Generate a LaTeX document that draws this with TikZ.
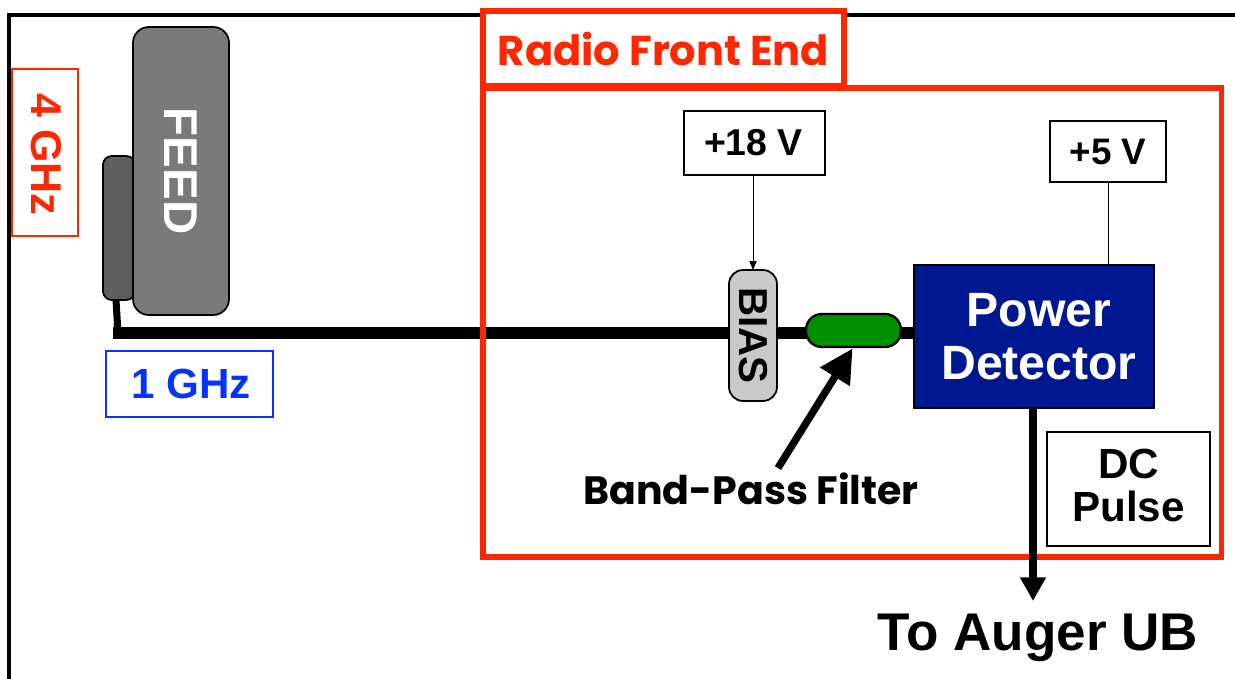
\documentclass[tikz,border=0pt]{standalone}
\usepackage{fontspec}
\usepackage{xcolor}
\usetikzlibrary{arrows.meta, positioning, calc}
\setmainfont{Liberation Sans}
\newfontfamily\gillfont{Poppins}
\definecolor{FrontRed}{HTML}{FF2600}
\definecolor{IfBlue}{HTML}{0433FF}
\definecolor{DetectorNavy}{HTML}{00188F}
\definecolor{FilterGreen}{HTML}{008F00}
\definecolor{FeedGray}{HTML}{7A7A7A}
\definecolor{HornGray}{HTML}{5E5E5E}
\definecolor{BiasGray}{HTML}{C9C9C9}
\newcommand{\fsz}[2]{\fontsize{#1}{#2}\selectfont\bfseries}

\begin{document}
\begin{tikzpicture}[
    x=0.02cm, y=-0.02cm,
    every node/.style={outer sep=0pt},
    labelbox/.style={rectangle, draw=black, line width=0.8pt, fill=white,
                     inner sep=0pt, align=center},
    bandbox/.style={rectangle, line width=1pt, fill=white, inner sep=0pt},
    frontbox/.style={rectangle, draw=FrontRed, line width=3pt, inner sep=0pt},
    part/.style={rectangle, rounded corners=8pt, draw=black, line width=1pt,
                 inner sep=0pt, align=center},
    cable/.style={line width=6.3pt},
    thinwire/.style={line width=0.5pt}
]
    \useasboundingbox (0,0) rectangle (1235,679);

    % Outer frame
    \coordinate (framebl) at (9,679);
    \coordinate (frametl) at (9,15);
    \coordinate (frametr) at (1235,15);
    \draw[line width=2.4pt, line join=miter] (framebl) -- (frametl) -- (frametr);

    % Feed and horn
    \node[part, fill=HornGray, rounded corners=5pt, minimum width=0.64cm, minimum height=2.88cm,
          anchor=north west] (horn) at (103,156) {};
    \coordinate (cablecorner) at (113,333);
    \draw[line width=4pt] (horn.south) ++(-3,0) coordinate (hornout) -- (118,333);
    \node[part, fill=FeedGray, text=white, rotate=-90, minimum width=5.76cm, minimum height=1.92cm,
          rounded corners=9pt, font=\fsz{27}{30}] (feed) at (181,171) {FEED};

    % Main signal line
    \node[part, fill=DetectorNavy, text=white, rounded corners=0pt, minimum width=4.8cm,
          minimum height=2.86cm, anchor=north west, font=\fsz{27.4}{30}] (detector) at (914,265)
          {\hspace*{0.2cm}Power\\\hspace*{0.2cm}Detector};
    \draw[cable] (cablecorner) -- (detector.west |- cablecorner);
    \node[frontbox, minimum width=14.78cm, minimum height=9.38cm, anchor=north west] (front) at (483,88) {};
    \node[part, fill=BiasGray, rotate=-90, minimum width=2.62cm, minimum height=0.96cm,
          font=\fsz{23}{26}] (bias) at (753,335.5) {BIAS};
    \node[part, fill=FilterGreen, line width=1.3pt, rounded corners=9pt, minimum width=1.9cm,
          minimum height=0.66cm] (filter) at (853.5,330.5) {};

    % Title and band labels
    \node[frontbox, fill=white, minimum width=7.22cm, minimum height=1.5cm, anchor=north west,
          text=FrontRed, font=\gillfont\fontsize{23.7}{26}\selectfont\bfseries] (title) at (483,11)
          {Radio Front End};
    \node[bandbox, draw=FrontRed, text=FrontRed, rotate=-90, minimum width=3.34cm, minimum height=1.32cm,
          font=\fsz{24.5}{26}] (highband) at (45,152.5) {\hspace*{0.08cm}4 GHz\rule[-2pt]{0pt}{2pt}};
    \node[bandbox, draw=IfBlue, text=IfBlue, minimum width=3.34cm, minimum height=1.32cm,
          font=\fsz{24}{26}] (lowband) at (189.5,384) {\hspace*{0.06cm}1 GHz};

    % Supplies
    \node[labelbox, minimum width=2.82cm, minimum height=1.28cm, font=\fsz{21.3}{24}] (biasv) at (754.5,143)
          {+18 V\hspace*{0.04cm}};
    \node[labelbox, minimum width=2.32cm, minimum height=1.22cm, font=\fsz{21}{24}] (detv) at (1108,151.5) {+5 V};
    \draw[thinwire, -{Triangle[length=5pt, width=4pt]}] (biasv.south -| bias.center) -- (bias.west);
    \draw[thinwire] (detv.south) -- (detv.south |- detector.north);

    % Filter callout
    \node[font=\gillfont\fontsize{22.5}{26}\selectfont\bfseries, inner sep=0pt] (bpf) at (751,489) {Band-Pass Filter};
    \coordinate (bpftail) at (778,468);
    \draw[line width=4.2pt, -{Triangle[length=19pt, width=19pt]}, shorten >=1pt] (bpftail) -- (filter.south);

    % Detector output
    \node[labelbox, minimum width=3.26cm, minimum height=2.28cm, font=\fsz{24}{24.5}] (pulse) at (1128.5,489)
          {DC\\Pulse\rule[-4pt]{0pt}{4pt}};
    \node[inner sep=0pt, font=\fsz{30.2}{32}] (auger) at (1038,638) {To Auger UB};
    \coordinate (detout) at ($(detector.south west)+(119,0)$);
    \coordinate (augerin) at (1033,601);
    \draw[line width=4pt, -{Triangle[length=13.5pt, width=14pt]}] (detout) -- (augerin);
\end{tikzpicture}
\end{document}
